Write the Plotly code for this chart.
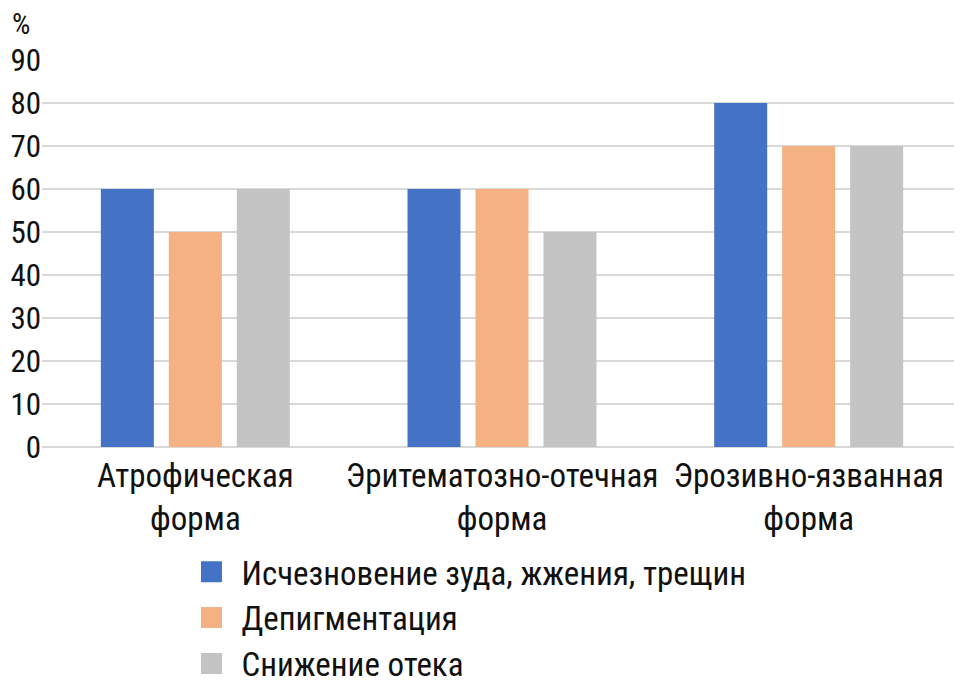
import plotly.graph_objects as go

categories = ["Атрофическая<br>форма", "Эритематозно-отечная<br>форма", "Эрозивно-язванная<br>форма"]
series_names = ["Исчезновение зуда, жжения, трещин", "Депигментация", "Снижение отека"]
itching = [60, 60, 80]
depigment = [50, 60, 70]
edema = [60, 50, 70]
colors = ["#4472C4", "#F4B183", "#C4C4C4"]
y_ticks = [0, 10, 20, 30, 40, 50, 60, 70, 80, 90]

FONT = "Roboto Condensed, Liberation Sans Narrow, DejaVu Sans Condensed, sans-serif"

fig = go.Figure()
for name, vals, c in zip(series_names, [itching, depigment, edema], colors):
    fig.add_trace(go.Bar(x=categories, y=vals, name=name, marker_color=c,
                         marker_line_width=0, showlegend=False))
for name, c in zip(series_names, colors):
    fig.add_trace(go.Scatter(x=[None], y=[None], mode="markers", name=name,
                             marker=dict(symbol="square", size=16, color=c,
                                         line=dict(width=5, color=c))))

fig.update_layout(
    width=962, height=690,
    margin=dict(l=34, r=8, t=52, b=251, autoexpand=False),
    plot_bgcolor="white", paper_bgcolor="white",
    font=dict(family=FONT, size=33, color="#111111"),
    barmode="group", bargap=0.335, bargroupgap=0.22,
    showlegend=True,
    legend=dict(x=0.1516, y=-0.25, xanchor="left", yanchor="top",
                font=dict(size=33), itemsizing="trace", itemwidth=50,
                tracegroupgap=0, bgcolor="rgba(0,0,0,0)"),
    xaxis=dict(showline=False, ticks="", tickfont=dict(size=33),
               ticklabelstandoff=6, automargin=False),
    yaxis=dict(range=[0, 90], tickvals=y_ticks, showgrid=True,
               gridcolor="#D9D9D9", gridwidth=2, zeroline=True,
               zerolinecolor="#D9D9D9", zerolinewidth=2,
               ticks="", tickfont=dict(size=31), ticklabelstandoff=0,
               automargin=False),
    annotations=[dict(text="%", xref="paper", yref="paper", x=-0.0228, y=1.14,
                      xanchor="center", yanchor="top", showarrow=False,
                      borderpad=0, font=dict(size=29))],
)

fig.write_html("out.html")
